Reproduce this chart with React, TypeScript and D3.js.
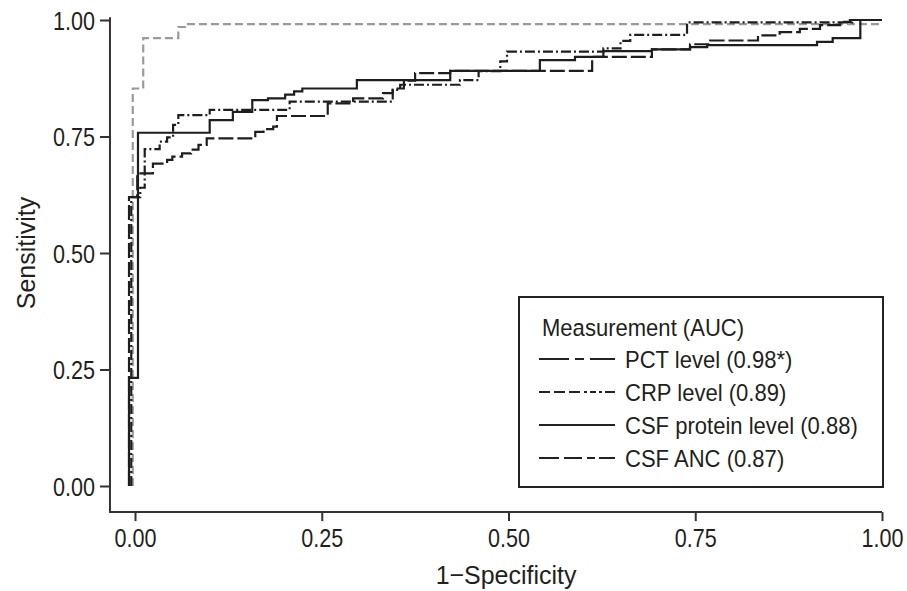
import React, { useEffect, useRef } from "react";
import * as d3 from "d3";

// ---- data ----
const AXIS_TICKS = [0, 0.25, 0.5, 0.75, 1];
const TICK_LABELS = ["0.00", "0.25", "0.50", "0.75", "1.00"];
const X_TITLE = "1\u2212Specificity";
const Y_TITLE = "Sensitivity";
const LEGEND_TITLE = "Measurement (AUC)";
const SERIES_NAMES = ["PCT level (0.98*)", "CRP level (0.89)", "CSF protein level (0.88)", "CSF ANC (0.87)"];

const PCT_FPR = [-0.003, -0.003, 0.011, 0.058, 0.067, 1.0];
const PCT_TPR = [0, 0.853, 0.961, 0.985, 0.991, 0.991];

const CRP_FPR = [-0.005, -0.005, 0.007, 0.013, 0.033, 0.043, 0.051, 0.058, 0.1, 0.207, 0.345, 0.355, 0.435, 0.46, 0.489, 0.498, 0.627, 0.65, 0.663, 0.739, 0.96, 1.0];
const CRP_TPR = [0, 0.62, 0.64, 0.723, 0.739, 0.748, 0.775, 0.796, 0.807, 0.825, 0.85, 0.861, 0.871, 0.89, 0.911, 0.932, 0.939, 0.955, 0.968, 0.995, 1.0, 1.0];

const PROT_FPR = [-0.008, -0.008, 0.004, 0.1, 0.131, 0.157, 0.178, 0.201, 0.213, 0.224, 0.297, 0.422, 0.542, 0.589, 0.627, 0.692, 0.743, 0.766, 0.913, 0.934, 0.971, 1.0];
const PROT_TPR = [0, 0.232, 0.758, 0.785, 0.803, 0.828, 0.832, 0.84, 0.847, 0.853, 0.871, 0.891, 0.914, 0.921, 0.933, 0.937, 0.942, 0.946, 0.953, 0.961, 1.0, 1.0];

const ANC_FPR = [-0.008, -0.008, 0.003, 0.024, 0.043, 0.05, 0.063, 0.075, 0.085, 0.096, 0.161, 0.172, 0.185, 0.19, 0.258, 0.292, 0.332, 0.345, 0.36, 0.375, 0.422, 0.612, 0.692, 0.743, 0.77, 0.834, 0.863, 0.89, 0.917, 0.944, 0.957, 1.0];
const ANC_TPR = [0, 0.62, 0.671, 0.692, 0.7, 0.707, 0.714, 0.722, 0.732, 0.746, 0.76, 0.766, 0.771, 0.794, 0.821, 0.832, 0.843, 0.853, 0.87, 0.886, 0.891, 0.921, 0.937, 0.948, 0.956, 0.967, 0.974, 0.981, 0.989, 0.996, 1.0, 1.0];

const X_AXIS_MIN = -0.0335;
const Y_AXIS_MIN = -0.056;
const Y_AXIS_MAX = 1.006;

const FONT = "'Liberation Sans', Arial, Helvetica, sans-serif";
const INK = "#231f20";

export default function App() {
  const axRef = useRef<SVGGElement>(null);
  const x = d3.scaleLinear().domain([0, 1]).range([135, 882]);
  const y = d3.scaleLinear().domain([0, 1]).range([486, 20]);

  useEffect(() => {
    const g = d3.select(axRef.current);
    g.selectAll("*").remove();
    const xa = g
      .append("g")
      .attr("transform", `translate(0,${y(Y_AXIS_MIN)})`)
      .call(
        d3
          .axisBottom(x)
          .tickValues(AXIS_TICKS)
          .tickFormat((_d: any, i: number) => TICK_LABELS[i])
          .tickSize(9)
          .tickSizeOuter(0)
      );
    xa.select(".domain").remove();
    xa.selectAll(".tick line").attr("stroke", "#333").attr("stroke-width", 2);
    xa.selectAll(".tick text")
      .attr("y", 0)
      .attr("dy", null)
      .attr("transform", "translate(0,35) scale(0.83,1)")
      .attr("fill", INK)
      .attr("font-size", 26)
      .attr("font-family", FONT);

    const ya = g
      .append("g")
      .attr("transform", `translate(${x(X_AXIS_MIN)},0)`)
      .call(
        d3
          .axisLeft(y)
          .tickValues(AXIS_TICKS)
          .tickFormat((_d: any, i: number) => TICK_LABELS[i])
          .tickSize(10)
          .tickSizeOuter(0)
      );
    ya.select(".domain").remove();
    ya.selectAll(".tick line").attr("stroke", "#333").attr("stroke-width", 2);
    ya.selectAll(".tick text")
      .attr("x", 0)
      .attr("dy", "0.36em")
      .attr("transform", "translate(-15,0) scale(0.83,1)")
      .attr("fill", INK)
      .attr("font-size", 26)
      .attr("font-family", FONT);
  }, []);

  const line = d3
    .line<[number, number]>()
    .x((d) => x(d[0]))
    .y((d) => y(d[1]))
    .curve(d3.curveStepAfter);

  const zip = (a: number[], b: number[]) => a.map((v, i) => [v, b[i]] as [number, number]);

  const series = [
    { name: SERIES_NAMES[0], pts: zip(PCT_FPR, PCT_TPR), color: "#9a9a9a", dash: "8,4", legendColor: "#222", legendDash: "30,6,9,6,30" },
    { name: SERIES_NAMES[1], pts: zip(CRP_FPR, CRP_TPR), color: "#1e1e1e", dash: "10,3,2,3", legendColor: "#222", legendDash: "11,4,11,4,11,4,3,3,6,3,3,3" },
    { name: SERIES_NAMES[2], pts: zip(PROT_FPR, PROT_TPR), color: "#1e1e1e", dash: "none", legendColor: "#222", legendDash: "none" },
    { name: SERIES_NAMES[3], pts: zip(ANC_FPR, ANC_TPR), color: "#1e1e1e", dash: "15,4", legendColor: "#222", legendDash: "20,5,18,5,8,4,20" },
  ];

  const rowY = [359, 392, 425, 458];

  return (
    <svg
      width={907}
      height={591}
      style={{ position: "absolute", left: 0, top: 0, background: "#fff" }}
    >
      <rect x={0} y={0} width={907} height={591} fill="#fff" />
      {series.map((s, i) => (
        <path
          key={i}
          d={line(s.pts) || ""}
          fill="none"
          stroke={s.color}
          strokeWidth={2.2}
          strokeDasharray={s.dash}
        />
      ))}
      <path
        d={`M${x(X_AXIS_MIN)},${y(Y_AXIS_MAX)}V${y(Y_AXIS_MIN)}H${x(1)}`}
        fill="none"
        stroke="#333"
        strokeWidth={2}
      />
      <g ref={axRef} />
      <text
        transform={`translate(35,${y(0.5)}) rotate(-90) scale(0.96,1)`}
        textAnchor="middle"
        fontSize={26}
        fontFamily={FONT}
        fill={INK}
      >
        {Y_TITLE}
      </text>
      <text
        transform="translate(506,584) scale(0.96,1)"
        textAnchor="middle"
        fontSize={26}
        fontFamily={FONT}
        fill={INK}
      >
        {X_TITLE}
      </text>

      <rect x={519} y={297} width={364} height={190} fill="#fff" stroke="#222" strokeWidth={2} />
      <text transform="translate(542,336) scale(0.9,1)" fontSize={24.5} fontFamily={FONT} fill={INK}>
        {LEGEND_TITLE}
      </text>
      {series.map((s, i) => (
        <g key={i}>
          <line
            x1={539}
            x2={615}
            y1={rowY[i]}
            y2={rowY[i]}
            stroke={s.legendColor}
            strokeWidth={2}
            strokeDasharray={s.legendDash}
          />
          <text
            transform={`translate(625,${rowY[i] + 9}) scale(0.9,1)`}
            fontSize={24.5}
            fontFamily={FONT}
            fill={INK}
          >
            {s.name}
          </text>
        </g>
      ))}
    </svg>
  );
}
